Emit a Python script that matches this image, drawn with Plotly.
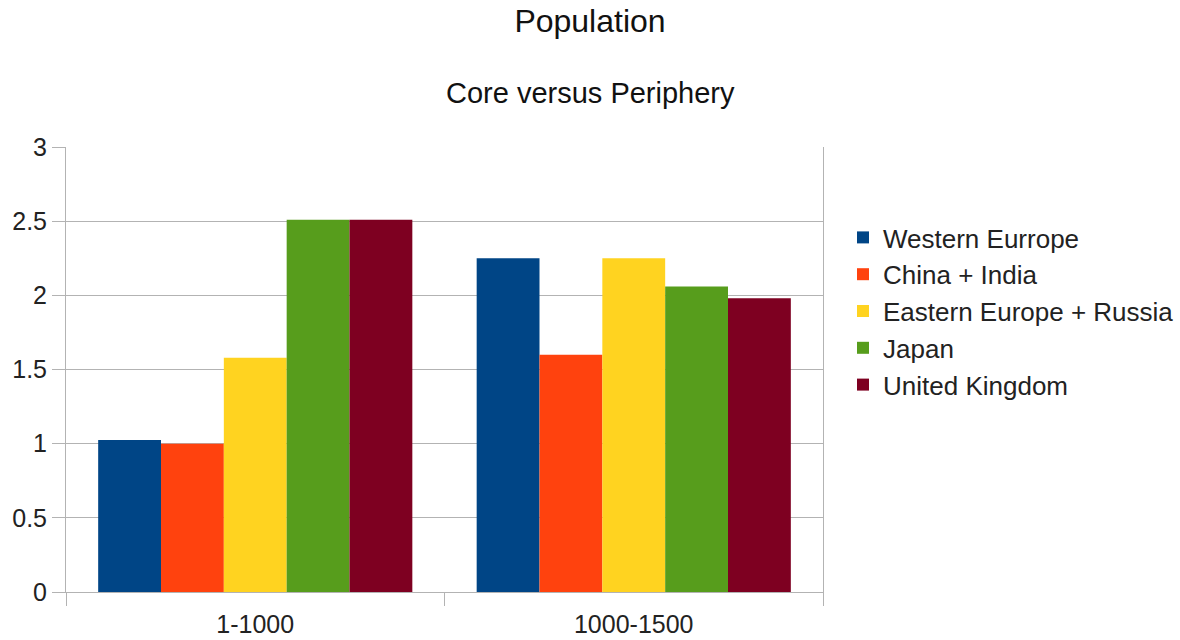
import plotly.graph_objects as go

categories = ["1-1000", "1000-1500"]
series_names = ["Western Eurrope", "China + India", "Eastern Europe + Russia", "Japan", "United Kingdom"]
western_europe = [1.025, 2.25]
china_india = [1.0, 1.6]
eastern_europe_russia = [1.58, 2.25]
japan = [2.51, 2.06]
united_kingdom = [2.51, 1.98]
y_ticks = [0, 0.5, 1, 1.5, 2, 2.5, 3]
y_tick_labels = ["0", "0.5", "1", "1.5", "2", "2.5", "3"]

values = [western_europe, china_india, eastern_europe_russia, japan, united_kingdom]
colors = ["#004586", "#ff420e", "#ffd320", "#579d1c", "#7e0021"]

FONT = "Liberation Sans, Arial, sans-serif"
W, H = 1180, 640
L, R, T, B = 66, 1180 - 823, 147, 640 - 592
plot_w = W - L - R
plot_h = H - T - B

fig = go.Figure()
for name, vals, col in zip(series_names, values, colors):
    fig.add_trace(go.Bar(x=categories, y=vals, name=name, marker=dict(color=col, line=dict(width=0))))

fig.update_layout(
    width=W, height=H,
    margin=dict(l=L, r=R, t=T, b=B, pad=0, autoexpand=False),
    paper_bgcolor="white", plot_bgcolor="white",
    font=dict(family=FONT, size=25, color="#222222"),
    barmode="group", bargap=0.17, bargroupgap=0,
    title=dict(text="Population", x=590 / W, xanchor="center", xref="container",
               y=1 - 21 / H, yanchor="middle", yref="container",
               font=dict(family=FONT, size=32, color="#111111")),
    annotations=[dict(text="Core versus Periphery", xref="paper", yref="paper",
                      x=(590 - L) / plot_w, y=1 + (T - 93) / plot_h,
                      xanchor="center", yanchor="middle", showarrow=False,
                      font=dict(family=FONT, size=29, color="#111111"))],
    legend=dict(xref="container", yref="container", x=843 / W, xanchor="left",
                y=1 - 311.5 / H, yanchor="middle",
                font=dict(family=FONT, size=26, color="#222222"), bgcolor="rgba(0,0,0,0)",
                tracegroupgap=0),
    showlegend=True,
)
fig.update_xaxes(type="category", range=[-0.5, 1.5], showgrid=False, showline=True, linecolor="#b3b3b3",
                 linewidth=1, ticks="outside", tickson="boundaries", ticklen=13, tickcolor="#b3b3b3",
                 ticklabelstandoff=10,
                 tickfont=dict(family=FONT, size=25, color="#222222"), zeroline=False, automargin=False)
fig.update_yaxes(range=[0, 3], tickvals=y_ticks, ticktext=y_tick_labels, showgrid=True, gridcolor="#b3b3b3",
                 showline=True, mirror=True, linecolor="#b3b3b3", linewidth=1, ticks="outside", ticklen=13,
                 tickcolor="#b3b3b3", zeroline=False, automargin=False,
                 tickfont=dict(family=FONT, size=25, color="#222222"))

fig.write_html("out.html", config={"displayModeBar": False},
               post_script="document.body.style.margin='0';document.body.style.overflow='hidden';")
